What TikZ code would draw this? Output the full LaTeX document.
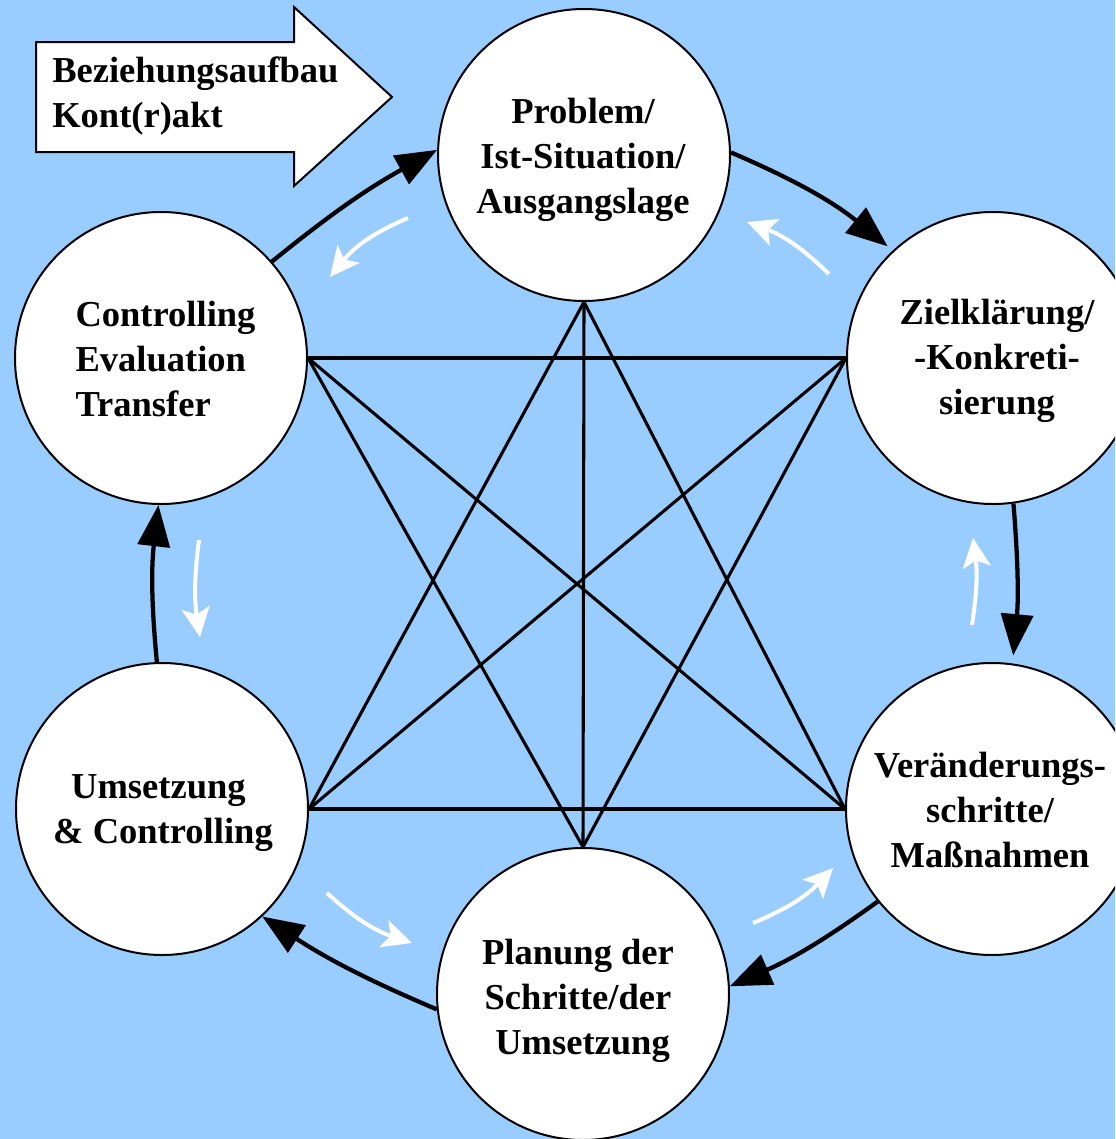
\documentclass[tikz,border=0pt]{standalone}
\usepackage{fontspec}
\setmainfont{Liberation Serif}
\usetikzlibrary{arrows.meta}
\definecolor{bgblue}{RGB}{153,204,255}
\begin{document}
\begin{tikzpicture}[x=0.75pt,y=-0.75pt,
  stage/.style={circle, draw=black, line width=1.5pt, fill=white, minimum size=219pt, inner sep=0pt},
  stagetext/.style={font=\fontsize{27.4pt}{33.75pt}\selectfont\bfseries, inner sep=0pt, align=center},
  link/.style={line width=2.3pt},
  flow/.style={line width=3.2pt, -{Triangle[length=31pt,width=24pt]}},
  back/.style={white, line width=3pt, -{Stealth[length=22pt,width=21pt,inset=5pt]}}
]
\useasboundingbox (0,0) rectangle (1115,1139);
\clip (0,0) rectangle (1115,1139);
\fill[bgblue] (0,0) rectangle (1115,1139);

% block arrow
\draw[line width=1.5pt, fill=white] (36,42) -- (294,42) -- (294,7) -- (392,97) -- (294,186) -- (294,152) -- (36,152) -- cycle;
\node[stagetext, align=left, anchor=west] (intro) at (52,96) {Beziehungsaufbau\\Kont(r)akt};

% circles
\node[stage] (cP) at (584,155) {};
\node[stage] (cZ) at (993,358) {};
\node[stage] (cV) at (992,809) {};
\node[stage] (cPl) at (583,994) {};
\node[stage] (cU) at (162,809) {};
\node[stage] (cC) at (161,358) {};

% star lines
\draw[link] (cC.east) -- (cZ.west);
\draw[link] (cU.east) -- (cV.west);
\draw[link] (cP.south) -- (cU.east);
\draw[link] (cP.south) -- (cV.west);
\draw[link] (cPl.north) -- (cC.east);
\draw[link] (cPl.north) -- (cZ.west);
\draw[link] (cC.east) -- (cV.west);
\draw[link] (cZ.west) -- (cU.east);
\draw[link] (cP.south) -- (cPl.north);

% black cycle arrows
\draw[flow] (cC.41) to[bend left=5] (cP.178);
\draw[flow, shorten >=5pt] (cP.1) to[bend left=8] (cZ.133);
\draw[flow, shorten >=6pt] (cZ.278) to[bend left=5] (cV.82);
\draw[flow] (cV.219) to[bend left=6] (cPl.3);
\draw[flow] (cPl.186) to[bend left=5] (cU.313);
\draw[flow] (cU.92) to[bend left=6] (cC.269);

% white counter arrows
\coordinate (w1a) at (408,218); \coordinate (w1b) at (330,277);
\coordinate (w2a) at (829,274); \coordinate (w2b) at (747,222);
\coordinate (w3a) at (972,625); \coordinate (w3b) at (973,538);
\coordinate (w4a) at (753,923); \coordinate (w4b) at (833,868);
\coordinate (w5a) at (327,893); \coordinate (w5b) at (412,943);
\coordinate (w6a) at (199,540); \coordinate (w6b) at (200,637);
\draw[back] (w1a) to[bend right=14] (w1b);
\draw[back] (w2a) to[bend right=12] (w2b);
\draw[back] (w3a) to[bend right=8] (w3b);
\draw[back] (w4a) to[bend right=12] (w4b);
\draw[back] (w5a) to[bend right=12] (w5b);
\draw[back] (w6a) to[bend right=8] (w6b);

% texts
\node[stagetext] (tP) at (583,159.5) {Problem/\\Ist-Situation/\\Ausgangslage};
\node[stagetext] (tZ) at (997,360.5) {Zielklärung/\\-Konkreti-\\sierung};
\node[stagetext] (tV) at (990,809.5) {Veränderungs-\\schritte/\\Maßnahmen};
\node[stagetext] (tPl) at (578,1001) {Planung der\\Schritte/der\\\hspace*{0.25em}Umsetzung};
\node[stagetext] (tU) at (163,813.5) {Umsetzung\hspace*{0.25em}\\\& Controlling};
\node[stagetext, align=left] (tC) at (165.5,358.5) {Controlling\\Evaluation\\Transfer};
\end{tikzpicture}
\end{document}
